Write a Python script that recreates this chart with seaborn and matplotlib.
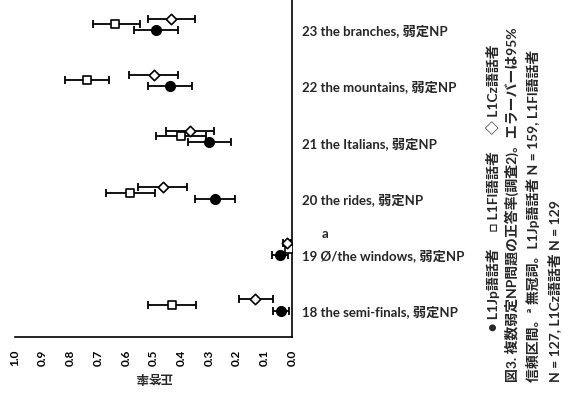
import numpy as np
import pandas as pd
import matplotlib
matplotlib.use("Agg")
import matplotlib.pyplot as plt
import matplotlib.transforms as mtransforms
import seaborn as sns

sns.set_style("white")
plt.rcParams["font.family"] = ["Lato", "Noto Sans CJK JP", "DejaVu Sans"]
plt.rcParams["font.weight"] = "bold"

# ── データ ────────────────────────────────────────────────────────────────
items = ["18 the semi-finals, 弱定NP", "19 Ø/the windows, 弱定NP", "20 the rides, 弱定NP",
         "21 the Italians, 弱定NP", "22 the mountains, 弱定NP", "23 the branches, 弱定NP"]

jp_val = [0.040, 0.043, 0.277, 0.300, 0.440, 0.490]
jp_lo  = [0.010, 0.014, 0.205, 0.220, 0.360, 0.410]
jp_hi  = [0.070, 0.072, 0.350, 0.375, 0.520, 0.570]

fl_val = [0.433, 0.011, 0.585, 0.400, 0.740, 0.640]
fl_lo  = [0.345, 0.000, 0.495, 0.310, 0.660, 0.550]
fl_hi  = [0.520, 0.022, 0.670, 0.490, 0.820, 0.720]

cz_val = [0.133, 0.018, 0.466, 0.370, 0.500, 0.437]
cz_lo  = [0.070, 0.005, 0.380, 0.280, 0.410, 0.350]
cz_hi  = [0.190, 0.033, 0.555, 0.455, 0.590, 0.520]

ticks = [1.0, 0.9, 0.8, 0.7, 0.6, 0.5, 0.4, 0.3, 0.2, 0.1, 0.0]

pos = np.arange(len(items))
groups = [
    # 値, 下限, 上限, ずらし, マーカー, 塗り
    (jp_val, jp_lo, jp_hi, -0.105, "o", "black", 46),
    (fl_val, fl_lo, fl_hi,  0.000, "s", "white", 34),
    (cz_val, cz_lo, cz_hi,  0.100, "D", "white", 28),
]

fig = plt.figure(figsize=(5.78, 3.98), dpi=100)
W, H = 578, 398
ax = fig.add_axes([15 / W, 1 - 337 / H, (292 - 15) / W, 337 / H])

for val, lo, hi, off, mk, fc, s in groups:
    val = np.array(val); lo = np.array(lo); hi = np.array(hi)
    yy = pos + off
    ax.errorbar(val, yy, xerr=[val - lo, hi - val], fmt="none", ecolor="black",
                elinewidth=1.3, capsize=2.6, capthick=1.3, zorder=2)
    df = pd.DataFrame({"v": val, "y": yy})
    sns.scatterplot(data=df, x="v", y="y", marker=mk, s=s, color=fc,
                    edgecolor="black", linewidth=1.2, ax=ax, zorder=3, legend=False)

ax.set_xlim(1.0, 0.0)
ax.set_ylim(-0.57, 5.43)
ax.set_xticks(ticks)
ax.set_xticklabels([f"{t:.1f}" for t in ticks], rotation=90, fontsize=8.5, fontweight="bold")
ax.tick_params(axis="x", direction="in", length=3, width=1, pad=9, colors="black")
ax.set_yticks([])
ax.set_xlabel("正答率", rotation=180, fontsize=9, fontweight="bold", labelpad=4)
ax.set_ylabel("")
for side in ["left", "top"]:
    ax.spines[side].set_visible(False)
for side in ["right", "bottom"]:
    ax.spines[side].set_color("black")
    ax.spines[side].set_linewidth(1.2)

# 項目ラベル (軸の右側)
trans = mtransforms.blended_transform_factory(ax.transAxes, ax.transData)
for p, lab in zip(pos, items):
    ax.text(1.036, p - 0.12, lab, transform=trans, ha="left", va="center",
            fontsize=9.5, fontweight="bold")
ax.text(1.12, 1.26, "a", transform=trans, ha="center", va="center",
        fontsize=9.5, fontweight="bold")

# キャプション (90度回転)
def ftext(xp, yp, s, ha):
    fig.text(xp / W, 1 - yp / H, s, rotation=90, rotation_mode="anchor",
             ha=ha, va="center", fontsize=10, fontweight="bold")

ftext(493, 188, "● L1Jp語話者　 □ L1Fl語話者　 ◇ L1Cz語話者", "center")
ftext(512, 382, "図3. 複数弱定NP問題の正答率(調査2)。エラーバーは95%", "left")
ftext(533, 382, "信頼区間。ª 無冠詞。L1Jp語話者 N = 159, L1Fl語話者", "left")
ftext(554, 382, "N = 127, L1Cz語話者 N = 129", "left")

plt.savefig("out.png", dpi=100)
plt.close()
